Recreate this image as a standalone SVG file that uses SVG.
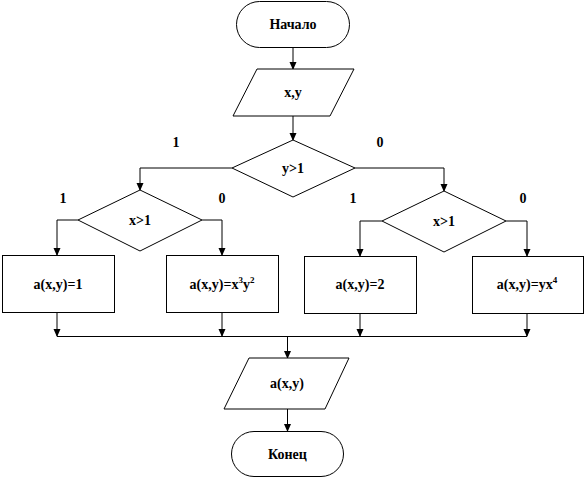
<svg xmlns="http://www.w3.org/2000/svg" width="585" height="478" viewBox="0 0 585 478">
<defs>
<marker id="ah" markerWidth="8" markerHeight="8" refX="7" refY="4" orient="auto" markerUnits="userSpaceOnUse">
<path d="M0,0.5 L8,4 L0,7.5 Z" fill="#000"/>
</marker>
<style>
.s{fill:#fff;stroke:#000;stroke-width:1}
.c{fill:none;stroke:#000;stroke-width:1}
.a{marker-end:url(#ah)}
text{font-family:'Liberation Serif','Times New Roman',serif;font-weight:bold;font-size:14px;text-anchor:middle;fill:#000}
.sup{font-size:9px}
</style>
</defs>
<rect width="585" height="478" fill="#fff"/>
<g id="connectors">
<path class="c a" d="M293,47 V69"/>
<path class="c a" d="M293,116 V140"/>
<path class="c a" d="M232,168 H140 V190"/>
<path class="c a" d="M355,168 H444 V191"/>
<path class="c a" d="M78,220 H57 V255"/>
<path class="c a" d="M202,220 H222 V255"/>
<path class="c a" d="M382,221 H360 V256"/>
<path class="c a" d="M506,221 H527 V256"/>
<path class="c a" d="M57,312 V336"/>
<path class="c a" d="M222,312 V336"/>
<path class="c a" d="M360,313 V336"/>
<path class="c a" d="M527,313 V336"/>
<path class="c" d="M57,336.5 H527"/>
<path class="c a" d="M287.5,337 V358"/>
<path class="c a" d="M287.5,409 V431"/>
</g>
<g id="labels">
<text x="176" y="147">1</text>
<text x="380" y="147">0</text>
<text x="63" y="203">1</text>
<text x="222" y="203">0</text>
<text x="353" y="203">1</text>
<text x="523" y="203">0</text>
</g>
<g id="start">
<rect class="s" x="236.5" y="1.5" width="113" height="46" rx="23"/>
<text x="293" y="29">Начало</text>
</g>
<g id="input">
<polygon class="s" points="257,69 354,69 330,116 233,116"/>
<text x="293" y="97">x,y</text>
</g>
<g id="cond-y">
<polygon class="s" points="293,140 355,168 293,197 232,168"/>
<text x="293" y="173">y&gt;1</text>
</g>
<g id="cond-x1">
<polygon class="s" points="140,190 202,220 140,251 78,220"/>
<text x="140" y="225">x&gt;1</text>
</g>
<g id="cond-x2">
<polygon class="s" points="444,191 506,221 444,252 382,221"/>
<text x="444" y="226">x&gt;1</text>
</g>
<g id="box1">
<rect class="s" x="2.5" y="255.5" width="112" height="57"/>
<text x="58" y="289">a(x,y)=1</text>
</g>
<g id="box2">
<rect class="s" x="166.5" y="255.5" width="112" height="57"/>
<text x="222" y="289">a(x,y)=x<tspan class="sup" dy="-6">3</tspan><tspan dy="6">y</tspan><tspan class="sup" dy="-6">2</tspan></text>
</g>
<g id="box3">
<rect class="s" x="304.5" y="256.5" width="112" height="57"/>
<text x="360" y="289">a(x,y)=2</text>
</g>
<g id="box4">
<rect class="s" x="472.5" y="256.5" width="111" height="57"/>
<text x="527" y="289">a(x,y)=yx<tspan class="sup" dy="-6">4</tspan></text>
</g>
<g id="output">
<polygon class="s" points="249,358 349,358 325,409 224,409"/>
<text x="287" y="388">a(x,y)</text>
</g>
<g id="end">
<rect class="s" x="231.5" y="431.5" width="112" height="45" rx="22.5"/>
<text x="287.5" y="459">Конец</text>
</g>
</svg>
